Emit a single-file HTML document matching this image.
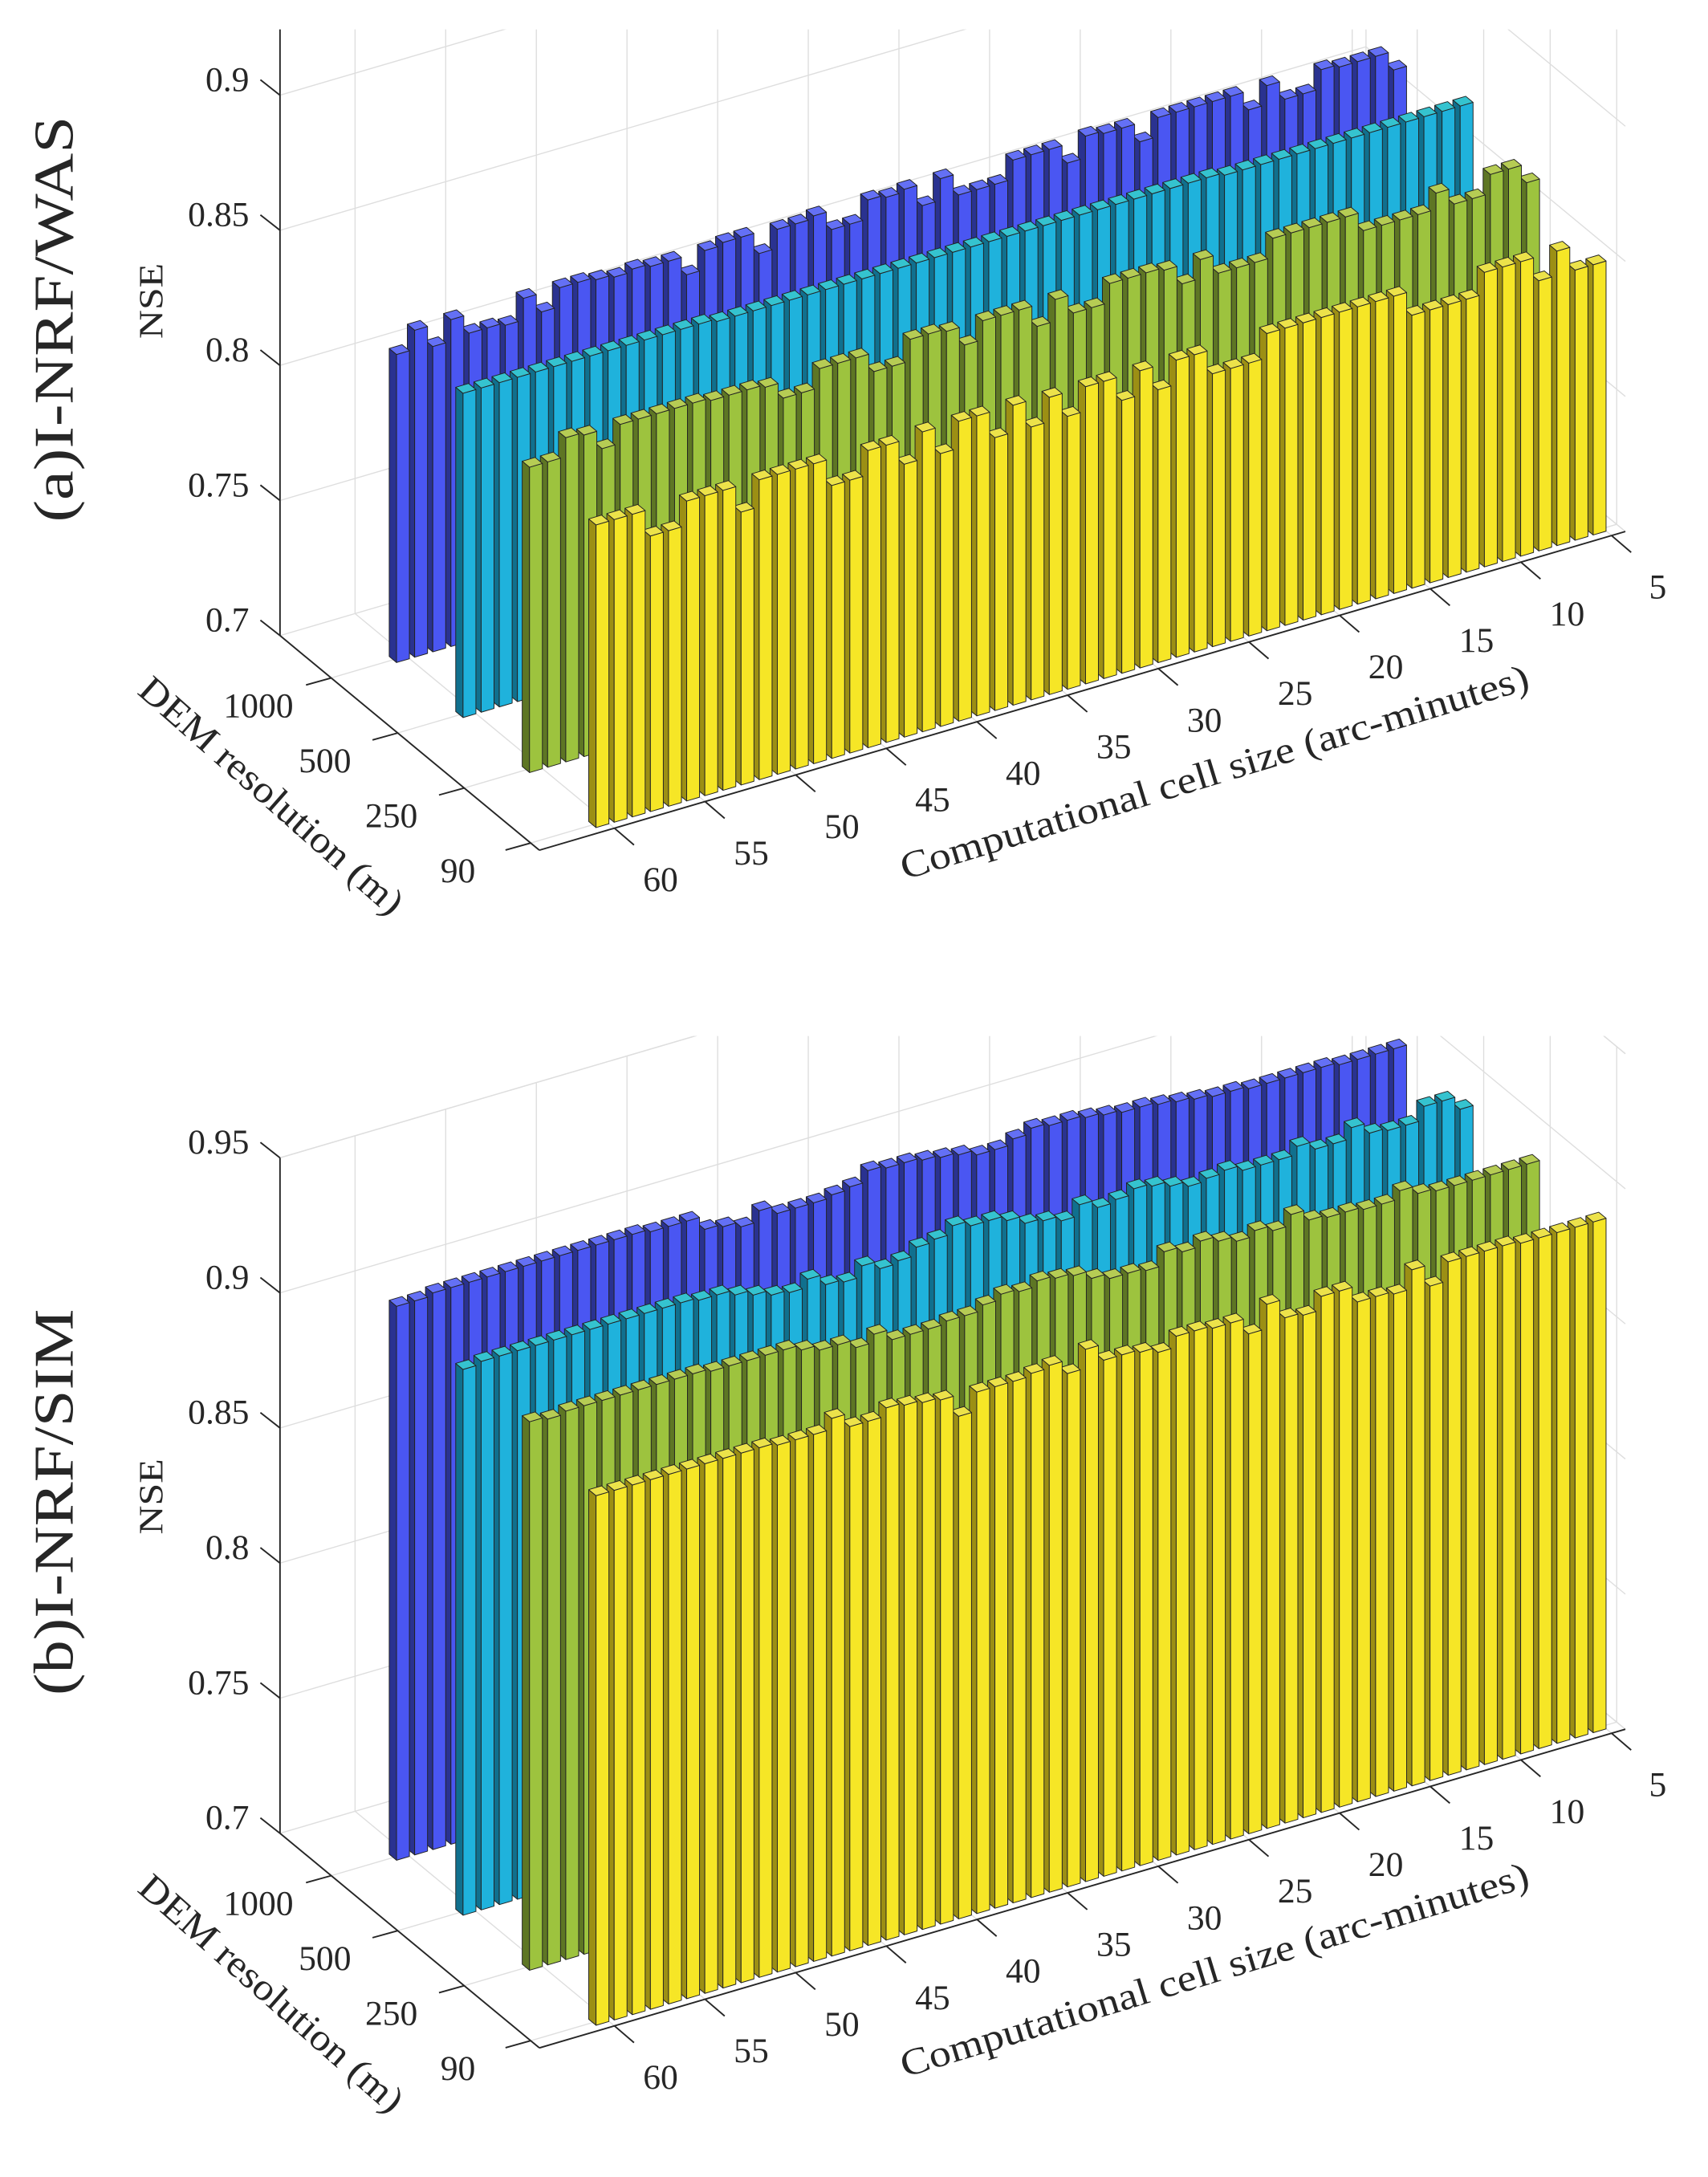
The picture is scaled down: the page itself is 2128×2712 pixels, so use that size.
<!DOCTYPE html>
<html><head><meta charset="utf-8"><style>
html,body{margin:0;padding:0;background:#fff;overflow:hidden}
svg{display:block}
text{font-family:"Liberation Serif",serif;fill:#262626}
</style></head><body>
<svg id="fig" xmlns="http://www.w3.org/2000/svg" width="2128" height="2712" viewBox="0 0 1220 1555" preserveAspectRatio="none">
<defs>
<clipPath id="clipA"><rect x="0" y="21" width="1220" height="700"/></clipPath>
<clipPath id="clipB"><rect x="0" y="740" width="1220" height="815"/></clipPath>
</defs>
<g id="panelA"></g>
<g id="panelB"></g>
</svg>
<script>
// ---- data ----
const cellSizes = [60,59,58,57,56,55,54,53,52,51,50,49,48,47,46,45,44,43,42,41,40,39,38,37,36,35,34,33,32,31,30,29,28,27,26,25,24,23,22,21,20,19,18,17,16,15,14,13,12,11,10,9,8,7,6,5];
const demLabels = ["1000","500","250","90"];
const cellTicks = [60,55,50,45,40,35,30,25,20,15,10,5];
const zTicksA = [0.7,0.75,0.8,0.85,0.9];
const zTicksB = [0.7,0.75,0.8,0.85,0.9,0.95];
const zTickLabelsA = ["0.7","0.75","0.8","0.85","0.9"];
const zTickLabelsB = ["0.7","0.75","0.8","0.85","0.9","0.95"];

const wasDem1000 = [0.814,0.821,0.813,0.821,0.814,0.814,0.813,0.821,0.814,0.821,0.821,0.820,0.819,0.820,0.819,0.819,0.812,0.819,0.820,0.820,0.812,0.819,0.819,0.820,0.813,0.813,0.820,0.819,0.820,0.812,0.820,0.812,0.812,0.812,0.819,0.819,0.819,0.812,0.820,0.819,0.819,0.812,0.819,0.819,0.819,0.819,0.819,0.812,0.819,0.812,0.812,0.819,0.818,0.818,0.818,0.811];
const wasDem500 = [0.820,0.820,0.820,0.820,0.820,0.820,0.820,0.820,0.820,0.820,0.820,0.820,0.820,0.820,0.819,0.819,0.819,0.819,0.819,0.819,0.819,0.819,0.819,0.819,0.819,0.819,0.819,0.819,0.819,0.819,0.819,0.819,0.819,0.819,0.819,0.819,0.819,0.819,0.819,0.819,0.819,0.819,0.818,0.818,0.818,0.818,0.818,0.818,0.818,0.818,0.818,0.818,0.818,0.818,0.818,0.818];
const wasDem250 = [0.813,0.813,0.820,0.819,0.812,0.819,0.819,0.819,0.819,0.819,0.818,0.818,0.818,0.817,0.811,0.811,0.818,0.818,0.818,0.811,0.811,0.819,0.819,0.818,0.811,0.818,0.818,0.818,0.810,0.818,0.811,0.811,0.818,0.818,0.818,0.817,0.810,0.817,0.810,0.810,0.810,0.817,0.817,0.817,0.817,0.817,0.810,0.810,0.810,0.810,0.816,0.810,0.810,0.817,0.817,0.810];
const wasDem90 = [0.812,0.812,0.812,0.802,0.802,0.811,0.811,0.811,0.801,0.811,0.811,0.811,0.811,0.801,0.801,0.810,0.810,0.801,0.811,0.801,0.811,0.811,0.801,0.811,0.801,0.810,0.801,0.810,0.810,0.801,0.810,0.801,0.810,0.810,0.801,0.801,0.801,0.810,0.810,0.810,0.810,0.810,0.810,0.810,0.810,0.801,0.801,0.801,0.801,0.809,0.809,0.809,0.800,0.809,0.800,0.800];

const simDem1000 = [0.905,0.905,0.906,0.906,0.906,0.906,0.906,0.906,0.906,0.906,0.906,0.906,0.906,0.906,0.905,0.905,0.905,0.900,0.899,0.897,0.901,0.898,0.898,0.898,0.899,0.900,0.904,0.903,0.903,0.902,0.901,0.900,0.898,0.898,0.900,0.902,0.901,0.901,0.900,0.899,0.898,0.898,0.897,0.896,0.895,0.894,0.894,0.893,0.893,0.893,0.893,0.893,0.892,0.892,0.892,0.892];
const simDem500 = [0.902,0.903,0.903,0.903,0.903,0.903,0.903,0.903,0.903,0.903,0.903,0.903,0.903,0.902,0.902,0.900,0.898,0.896,0.895,0.898,0.894,0.893,0.897,0.894,0.895,0.898,0.899,0.902,0.900,0.900,0.898,0.895,0.894,0.892,0.896,0.893,0.894,0.896,0.895,0.893,0.891,0.892,0.893,0.891,0.891,0.891,0.894,0.891,0.891,0.895,0.891,0.890,0.890,0.895,0.895,0.890];
const simDem250 = [0.903,0.902,0.903,0.903,0.903,0.903,0.903,0.903,0.903,0.903,0.902,0.902,0.902,0.902,0.902,0.900,0.898,0.898,0.895,0.898,0.894,0.894,0.894,0.895,0.895,0.897,0.899,0.898,0.900,0.899,0.898,0.895,0.893,0.893,0.892,0.897,0.895,0.897,0.895,0.893,0.895,0.893,0.897,0.893,0.892,0.892,0.891,0.891,0.894,0.891,0.890,0.890,0.890,0.890,0.890,0.890];
const simDem90 = [0.896,0.896,0.896,0.896,0.896,0.896,0.896,0.896,0.896,0.896,0.895,0.895,0.895,0.899,0.894,0.894,0.897,0.896,0.895,0.894,0.886,0.893,0.893,0.893,0.894,0.895,0.890,0.897,0.891,0.891,0.890,0.888,0.892,0.892,0.891,0.891,0.885,0.894,0.887,0.886,0.891,0.891,0.885,0.885,0.884,0.891,0.883,0.890,0.890,0.890,0.890,0.889,0.889,0.889,0.889,0.889];

// ---- projection (axis functions) ----
const NS = "http://www.w3.org/2000/svg";
const X0 = 200, Y0 = 454, UX = 12.95, UY = -3.8, TX = 47.5, TY = 39.3, ZS = 1930, ZMIN = 0.7;
const U_END = 59.9, T_END = 3.9;
function uOfCell(c){ return 64.14 - c; }
function tOfRow(r){ return 0.77 + r; }
function proj(u, t, z, yOff){
  return [X0 + UX*u + TX*t, Y0 + yOff + UY*u + TY*t - ZS*(z - ZMIN)];
}
function el(tag, attrs, parent){
  const e = document.createElementNS(NS, tag);
  for (const k in attrs) e.setAttribute(k, attrs[k]);
  parent.appendChild(e);
  return e;
}
function pts(a){ return a.map(p => p[0].toFixed(2)+","+p[1].toFixed(2)).join(" "); }

const colors = [
  {front:"#4a56f2", side:"#2a3290", top:"#6470f5"},
  {front:"#1fb2dc", side:"#10708e", top:"#35c3cf"},
  {front:"#9dc33e", side:"#5e7624", top:"#b6cc54"},
  {front:"#f6e626", side:"#9c8f14", top:"#ece24a"}
];

function drawPanel(g, cfg){
  const yOff = cfg.yOff;
  const grid = el("g", {"clip-path":"url(#"+cfg.clip+")"}, g);
  
  
  const gs = {stroke:"#dedede","stroke-width":"0.8",fill:"none"};
  // back wall horizontal z lines
  cfg.zTicks.forEach(z => {
    const a = proj(0,0,z,yOff), b = proj(U_END,0,z,yOff), c = proj(U_END,T_END,z,yOff);
    const l = el("polyline", Object.assign({points: pts([a,b,c])}, gs), grid);
    
    
  });
  // top edge of box
  {
    const a = proj(0,0,cfg.zTop,yOff), b = proj(U_END,0,cfg.zTop,yOff), c = proj(U_END,T_END,cfg.zTop,yOff);
    const l = el("polyline", Object.assign({points: pts([a,b,c])}, gs), grid);
    
    
  }
  // back wall verticals + floor lines at cell ticks
  cellTicks.forEach(c => {
    const u = uOfCell(c);
    const l1 = el("line", Object.assign({x1:proj(u,0,ZMIN,yOff)[0], y1:proj(u,0,ZMIN,yOff)[1], x2:proj(u,0,cfg.zTop,yOff)[0], y2:proj(u,0,cfg.zTop,yOff)[1]}, gs), grid);
    
    
    const l2 = el("line", Object.assign({x1:proj(u,0,ZMIN,yOff)[0], y1:proj(u,0,ZMIN,yOff)[1], x2:proj(u,T_END,ZMIN,yOff)[0], y2:proj(u,T_END,ZMIN,yOff)[1]}, gs), grid);
    
    
  });
  // right wall edge
  {
    const l = el("line", Object.assign({x1:proj(U_END,0,ZMIN,yOff)[0], y1:proj(U_END,0,ZMIN,yOff)[1], x2:proj(U_END,0,cfg.zTop,yOff)[0], y2:proj(U_END,0,cfg.zTop,yOff)[1]}, gs), grid);
    
    
  }
  // right wall verticals + floor lines at DEM ticks
  demLabels.forEach((d, r) => {
    const t = tOfRow(r);
    const l1 = el("line", Object.assign({x1:proj(U_END,t,ZMIN,yOff)[0], y1:proj(U_END,t,ZMIN,yOff)[1], x2:proj(U_END,t,cfg.zTop,yOff)[0], y2:proj(U_END,t,cfg.zTop,yOff)[1]}, gs), grid);
    
    
    const l2 = el("line", Object.assign({x1:proj(0,t,ZMIN,yOff)[0], y1:proj(0,t,ZMIN,yOff)[1], x2:proj(U_END,t,ZMIN,yOff)[0], y2:proj(U_END,t,ZMIN,yOff)[1]}, gs), grid);
    
    
  });
  // floor right edge
  {
    const a = proj(U_END,0,ZMIN,yOff), b = proj(U_END,T_END,ZMIN,yOff);
    const l = el("line", Object.assign({x1:a[0],y1:a[1],x2:b[0],y2:b[1]}, gs), grid);
    
    
  }

  // axes
  const ax = el("g", {"clip-path":"url(#"+cfg.clip+")", stroke:"#262626", "stroke-width":"1.1", fill:"none"}, g);
  
  
  const zA = proj(0,0,ZMIN,yOff), zB = proj(0,0,cfg.zTop,yOff);
  const zl = el("line", {x1:zA[0],y1:zA[1],x2:zB[0],y2:zB[1]}, ax);
  
  
  const dA = proj(0,0,ZMIN,yOff), dB = proj(0,T_END,ZMIN,yOff);
  const dl = el("line", {x1:dA[0],y1:dA[1],x2:dB[0],y2:dB[1]}, ax);
  
  
  const cB = proj(U_END,T_END,ZMIN,yOff);
  const cl = el("line", {x1:dB[0],y1:dB[1],x2:cB[0],y2:cB[1]}, ax);
  
  

  // z ticks
  cfg.zTicks.forEach((z, k) => {
    const p = proj(0,0,z,yOff);
    const tk = el("line", {x1:p[0],y1:p[1],x2:p[0]-14,y2:p[1]-11}, ax);
    
    
    const tx = el("text", {x:p[0]-22, y:p[1]-3, "font-size":"25", "text-anchor":"end"}, g);
    tx.textContent = cfg.zLabels[k];
    
    
  });
  // DEM ticks
  demLabels.forEach((d, r) => {
    const p = proj(0,tOfRow(r),ZMIN,yOff);
    const tk = el("line", {x1:p[0],y1:p[1],x2:p[0]-18,y2:p[1]+5}, ax);
    
    
    const tx = el("text", {x:p[0]-52, y:p[1]+28, "font-size":"25", "text-anchor":"middle"}, g);
    tx.textContent = d;
    
    
  });
  // cell ticks
  cellTicks.forEach(c => {
    const p = proj(uOfCell(c),T_END,ZMIN,yOff);
    const tk = el("line", {x1:p[0],y1:p[1],x2:p[0]+14,y2:p[1]+12}, ax);
    
    
    const tx = el("text", {x:p[0]+33, y:p[1]+45, "font-size":"25", "text-anchor":"middle"}, g);
    tx.textContent = String(c);
    
    
  });

  // bars
  const bars = el("g", {stroke:"#222", "stroke-width":"0.55", "stroke-linejoin":"round"}, g);
  
  
  const W = 0.71, D = 0.11;
  cfg.series.forEach((vals, r) => {
    const col = colors[r];
    const tf = 0.82 + r;
    for (let i = vals.length - 1; i >= 0; i--) {
      const v = vals[i];
      const ul = uOfCell(cellSizes[i]) - 0.72;
      const bg = el("g", {}, bars);
      
      
      const s = [proj(ul,tf,ZMIN,yOff), proj(ul,tf-D,ZMIN,yOff), proj(ul,tf-D,v,yOff), proj(ul,tf,v,yOff)];
      el("polygon", {points:pts(s), fill:col.side}, bg);
      const f = [proj(ul,tf,ZMIN,yOff), proj(ul+W,tf,ZMIN,yOff), proj(ul+W,tf,v,yOff), proj(ul,tf,v,yOff)];
      el("polygon", {points:pts(f), fill:col.front}, bg);
      const tp = [proj(ul,tf,v,yOff), proj(ul+W,tf,v,yOff), proj(ul+W,tf-D,v,yOff), proj(ul,tf-D,v,yOff)];
      el("polygon", {points:pts(tp), fill:col.top}, bg);
    }
  });

  // titles
  const zt = el("text", {x:0, y:0, "font-size":"24", "text-anchor":"middle", transform:"translate(116,"+(cfg.nseY)+") rotate(-90)", textLength:"54", lengthAdjust:"spacingAndGlyphs"}, g);
  zt.textContent = "NSE";
  
  
  const pt = el("text", {x:0, y:0, "font-size":"40", "text-anchor":"middle", transform:"translate(52,"+(cfg.titleY)+") rotate(-90)", textLength:cfg.titleLen, lengthAdjust:"spacingAndGlyphs"}, g);
  pt.textContent = cfg.title;
  
  
  const dt = el("text", {x:0, y:0, "font-size":"27", "text-anchor":"middle", transform:"translate(188,"+(575+yOff)+") rotate(41.4)", textLength:"242", lengthAdjust:"spacingAndGlyphs"}, g);
  dt.textContent = "DEM resolution (m)";
  
  
  const ct = el("text", {x:0, y:0, "font-size":"27", "text-anchor":"middle", transform:"translate(870,"+(560+yOff)+") rotate(-17)", textLength:"468", lengthAdjust:"spacingAndGlyphs"}, g);
  ct.textContent = "Computational cell size (arc-minutes)";
  
  
}

drawPanel(document.getElementById("panelA"), {
  yOff:0, zTop:0.925, clip:"clipA", zTicks:zTicksA, zLabels:zTickLabelsA,
  series:[wasDem1000, wasDem500, wasDem250, wasDem90],
  title:"(a)I-NRF/WAS", titleY:228, titleLen:"290", nseY:215
});
drawPanel(document.getElementById("panelB"), {
  yOff:855.5, zTop:0.95, clip:"clipB", zTicks:zTicksB, zLabels:zTickLabelsB,
  series:[simDem1000, simDem500, simDem250, simDem90],
  title:"(b)I-NRF/SIM", titleY:1073, titleLen:"276", nseY:1069
});
</script>
</body></html>
